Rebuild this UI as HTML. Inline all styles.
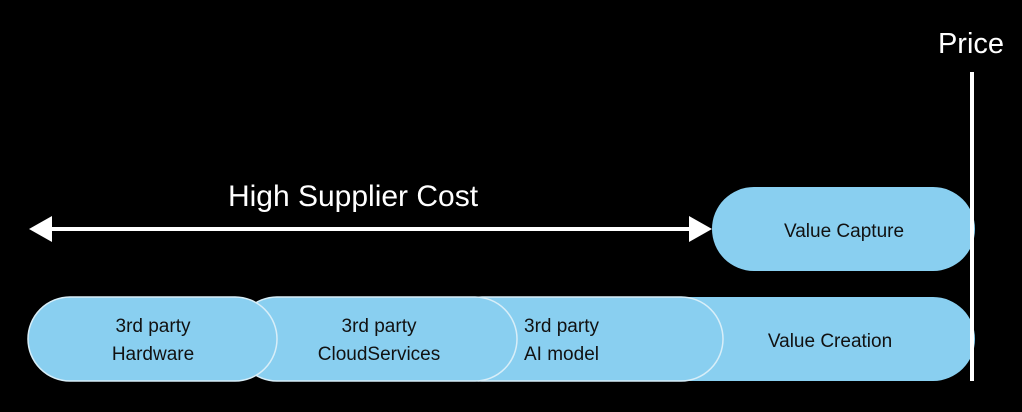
<!DOCTYPE html>
<html><head><meta charset="utf-8"><style>
html,body{margin:0;padding:0;background:#000;}
svg{display:block}
text{font-family:"Liberation Sans",sans-serif;}
</style></head><body>
<svg width="1022" height="412" viewBox="0 0 1022 412" xmlns="http://www.w3.org/2000/svg">
<rect width="1022" height="412" fill="#000"/>
<!-- Value creation -->
<rect x="450" y="297" width="525" height="84" rx="42" fill="#89cff0"/>
<!-- AI model -->
<rect x="440" y="297" width="283" height="84" rx="42" fill="#89cff0" stroke="#d8eef8" stroke-width="1.5"/>
<!-- Cloud -->
<rect x="235" y="297" width="282" height="84" rx="42" fill="#89cff0" stroke="#d8eef8" stroke-width="1.5"/>
<!-- Hardware -->
<rect x="28" y="297" width="249" height="84" rx="42" fill="#89cff0" stroke="#d8eef8" stroke-width="1.5"/>
<!-- Value capture -->
<rect x="712" y="187" width="263" height="84" rx="42" fill="#89cff0"/>
<!-- Price line -->
<rect x="970" y="72" width="4" height="309" fill="#fff"/>
<!-- arrow -->
<rect x="50" y="227" width="642" height="4" fill="#fff"/>
<polygon points="29,229 52,216 52,242" fill="#fff"/>
<polygon points="712,229 689,216 689,242" fill="#fff"/>
<text x="353" y="206" font-size="30" fill="#fff" text-anchor="middle">High Supplier Cost</text>
<text x="971" y="53" font-size="29" fill="#fff" text-anchor="middle">Price</text>
<g font-size="19" fill="#111" text-anchor="middle">
<text x="844" y="237">Value Capture</text>
<text x="830" y="347">Value Creation</text>
<text x="153" y="332">3rd party</text>
<text x="153" y="360">Hardware</text>
<text x="379" y="332">3rd party</text>
<text x="379" y="360">CloudServices</text>
</g>
<g font-size="19" fill="#111">
<text x="524" y="332">3rd party</text>
<text x="524" y="360">AI model</text>
</g>
</svg>
</body></html>
